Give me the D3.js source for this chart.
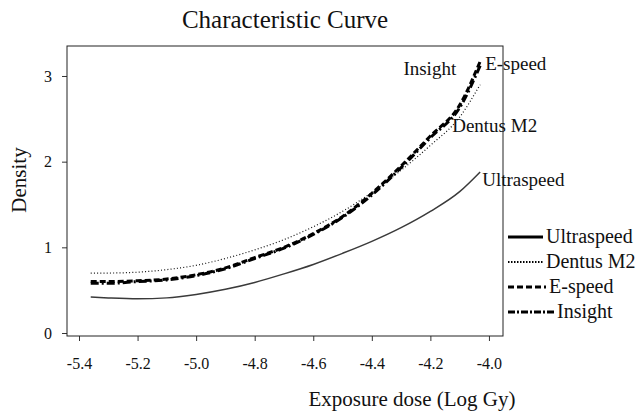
<!DOCTYPE html>
<html>
<head>
<meta charset="utf-8">
<script src="https://cdn.jsdelivr.net/npm/d3@7"></script>
<style>
  html, body { margin: 0; padding: 0; background: #fff; }
  svg { display: block; font-family: "Liberation Serif", "Times New Roman", serif; }
</style>
</head>
<body>
<svg id="chart" width="639" height="415"></svg>
<script>
// ---- data ----
const xValues   = [-5.36, -5.3, -5.2, -5.1, -5.0, -4.9, -4.8, -4.7, -4.6, -4.5, -4.4, -4.3, -4.2, -4.1, -4.03];
const ultraspeed = [0.42, 0.41, 0.40, 0.41, 0.45, 0.51, 0.59, 0.69, 0.80, 0.93, 1.07, 1.23, 1.42, 1.65, 1.88];
const dentusM2   = [0.70, 0.70, 0.71, 0.74, 0.79, 0.87, 0.97, 1.09, 1.24, 1.42, 1.64, 1.90, 2.19, 2.52, 2.90];
const eSpeed     = [0.60, 0.60, 0.61, 0.63, 0.68, 0.76, 0.88, 1.00, 1.16, 1.36, 1.63, 1.95, 2.30, 2.66, 3.17];
const insight    = [0.58, 0.58, 0.60, 0.62, 0.67, 0.75, 0.87, 0.99, 1.15, 1.35, 1.61, 1.93, 2.28, 2.63, 3.12];
const seriesNames = ["Ultraspeed", "Dentus M2", "E-speed", "Insight"];
const xTicks = [-5.4, -5.2, -5.0, -4.8, -4.6, -4.4, -4.2, -4.0];
const yTicks = [0, 1, 2, 3];
const title = "Characteristic Curve";
const xTitle = "Exposure dose (Log Gy)";
const yTitle = "Density";

// ---- layout ----
const svg = d3.select("#chart");
const L = 67, R = 503, T = 46, B = 336;
const x = d3.scaleLinear().domain([-5.441, -3.952]).range([L, R]);
const y = d3.scaleLinear().domain([-0.035, 3.35]).range([B, T]);

const styles = {
  "Ultraspeed": { w: 1.5, dash: null, color: "#3a3a3a" },
  "Dentus M2":  { w: 1.2, dash: "1,2.2", color: "#111" },
  "E-speed":    { w: 3, dash: "6,3", color: "#000" },
  "Insight":    { w: 3, dash: "8,3,2,3", color: "#000" }
};
const seriesVals = [ultraspeed, dentusM2, eSpeed, insight];

// axes
const xAxis = d3.axisBottom(x).tickValues(xTicks).tickSize(5).tickSizeOuter(0)
  .tickPadding(17).tickFormat(d => d.toFixed(1));
const gx = svg.append("g").attr("transform", `translate(0,${B})`).call(xAxis);
gx.select(".domain").remove();
gx.selectAll("text").attr("font-size", 16).attr("font-family", "Liberation Serif, serif").attr("fill", "#111");
gx.selectAll("line").attr("stroke", "#333");

const yAxis = d3.axisLeft(y).tickValues(yTicks).tickSize(5).tickSizeOuter(0)
  .tickPadding(10).tickFormat(d3.format("d"));
const gy = svg.append("g").attr("transform", `translate(${L},0)`).call(yAxis);
gy.select(".domain").remove();
gy.selectAll("text").attr("font-size", 16).attr("font-family", "Liberation Serif, serif").attr("fill", "#111");
gy.selectAll("line").attr("stroke", "#333");

// frame
svg.append("rect").attr("x", L).attr("y", T).attr("width", R - L).attr("height", B - T)
  .attr("fill", "none").attr("stroke", "#222").attr("stroke-width", 1);

// curves
const line = d3.line().x(d => x(d[0])).y(d => y(d[1])).curve(d3.curveMonotoneX);
seriesNames.forEach((name, i) => {
  const pts = xValues.map((xv, j) => [xv, seriesVals[i][j]]);
  const st = styles[name];
  svg.append("path").datum(pts).attr("d", line)
    .attr("fill", "none").attr("stroke", st.color).attr("stroke-width", st.w)
    .attr("stroke-dasharray", st.dash);
});

// in-plot labels (anchored to curve ends)
const lastX = xValues[xValues.length - 1];
const lbl = (txt, px, py, anchor) => svg.append("text").attr("x", px).attr("y", py)
  .attr("font-size", 19).attr("text-anchor", anchor || "start").attr("fill", "#111").text(txt);
lbl("Insight", x(lastX) - 24, y(insight[insight.length - 1]) + 9, "end");
lbl("E-speed", x(lastX) + 5, y(eSpeed[eSpeed.length - 1]) + 9);
lbl("Dentus M2", x(lastX) - 28, y(dentusM2[dentusM2.length - 1]) + 47);
lbl("Ultraspeed", x(lastX) + 2, y(ultraspeed[ultraspeed.length - 1]) + 14);

// legend
const legendTop = 237, legendStep = 25;
seriesNames.forEach((name, i) => {
  const yy = legendTop + i * legendStep;
  const x2 = name === "Insight" ? 554 : (name === "E-speed" ? 546 : 543);
  svg.append("line").attr("x1", 508).attr("x2", x2).attr("y1", yy).attr("y2", yy)
    .attr("stroke", "#000").attr("stroke-width", name === "Dentus M2" ? 2.2 : 3)
    .attr("stroke-dasharray", name === "Ultraspeed" ? null : (name === "Dentus M2" ? "1.5,1.5" : (name === "E-speed" ? "6,3" : "7,2,2,2")));
  svg.append("text").attr("x", x2 + 3).attr("y", yy + 6).attr("font-size", 20).attr("fill", "#111").text(name);
});

// titles
svg.append("text").attr("x", 285).attr("y", 28).attr("text-anchor", "middle")
  .attr("font-size", 25).attr("fill", "#111").text(title);
svg.append("text").attr("x", 412).attr("y", 406).attr("text-anchor", "middle")
  .attr("font-size", 21).attr("fill", "#111").text(xTitle);
svg.append("text").attr("transform", "translate(26,180) rotate(-90)").attr("text-anchor", "middle")
  .attr("font-size", 21).attr("fill", "#111").text(yTitle);
</script>
</body>
</html>
